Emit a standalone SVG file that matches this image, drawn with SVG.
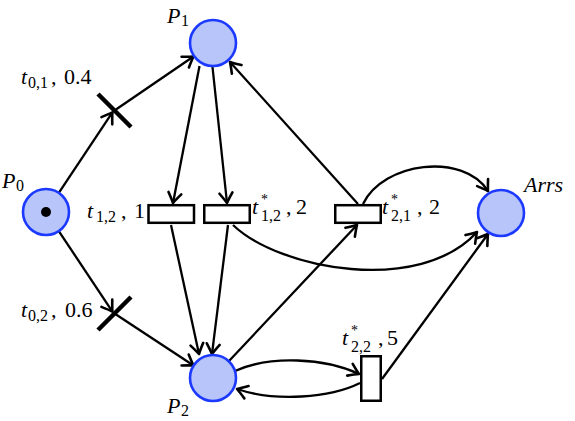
<svg xmlns="http://www.w3.org/2000/svg" width="575" height="421" viewBox="0 0 575 421">
<style>
.place{fill:#b8c5fa;stroke:#1c3aff;stroke-width:2.6}
.trans{fill:#fff;stroke:#000;stroke-width:2.5}
.bar{stroke:#000;stroke-width:4.5}
.arc{fill:none;stroke:#000;stroke-width:2.3;marker-end:url(#arr)}
text{font-family:'Liberation Serif','DejaVu Serif',serif;font-size:22px;fill:#000}
.it{font-style:italic}
.sub{font-size:16px}
.sup{font-size:14px}
</style>
<defs>
<marker id="arr" markerUnits="userSpaceOnUse" viewBox="-12 -9 14 18" markerWidth="14" markerHeight="18" refX="0" refY="0" orient="auto">
<path d="M-10,-6.5 Q-3.5,-2 0,0 Q-3.5,2 -10,6.5" fill="none" stroke="#000" stroke-width="2.6" stroke-linecap="round" stroke-linejoin="round"/>
</marker>
</defs>
<g id="connectors">
<path class="arc" d="M58.8,192.9 L112.4,112.4"/>
<path class="arc" d="M114.5,110.5 L193.5,56.5"/>
<path class="arc" d="M58.8,231.1 L112.4,311.6"/>
<path class="arc" d="M114.5,313.5 L193.5,365.5"/>
<path class="arc" d="M199.5,66 L173,203"/>
<path class="arc" d="M212.5,67 L227,203"/>
<path class="arc" d="M358,204 L230,62"/>
<path class="arc" d="M363,204 C383,162 463,152 488,191"/>
<path class="arc" d="M171,225 L199,354"/>
<path class="arc" d="M228,225 L212,354"/>
<path class="arc" d="M233,225 C280,270 420,295 477,232"/>
<path class="arc" d="M229,361 L357,225"/>
<path class="arc" d="M235,371 C270,355 325,358 359,374"/>
<path class="arc" d="M360,383 C330,398 275,402 237,389"/>
<path class="arc" d="M382,379 L488,234"/>
</g>
<g id="P0">
<circle class="place" cx="46" cy="212" r="23"/>
<circle cx="46" cy="212" r="5" fill="#000"/>
<text><tspan class="it" x="2" y="188">P</tspan><tspan class="sub" x="16" y="191">0</tspan></text>
</g>
<g id="P1">
<circle class="place" cx="213" cy="43" r="23"/>
<text><tspan class="it" x="167" y="22.5">P</tspan><tspan class="sub" x="181" y="25.5">1</tspan></text>
</g>
<g id="P2">
<circle class="place" cx="213" cy="378" r="23"/>
<text><tspan class="it" x="167" y="413">P</tspan><tspan class="sub" x="181" y="416">2</tspan></text>
</g>
<g id="Arrs">
<circle class="place" cx="501" cy="213" r="23"/>
<text class="it" x="524" y="192">Arrs</text>
</g>
<g id="t01">
<line class="bar" x1="98" y1="94" x2="131" y2="127"/>
<text><tspan class="it" x="21" y="84">t</tspan><tspan class="sub" x="28" y="88">0,1</tspan><tspan x="51" y="84">,</tspan><tspan x="64" y="84">0.4</tspan></text>
</g>
<g id="t02">
<line class="bar" x1="98" y1="330" x2="131" y2="297"/>
<text><tspan class="it" x="21" y="317">t</tspan><tspan class="sub" x="28" y="321">0,2</tspan><tspan x="51" y="317">,</tspan><tspan x="65" y="317">0.6</tspan></text>
</g>
<g id="t12">
<rect class="trans" x="148.5" y="205.2" width="45.5" height="17.6"/>
<text><tspan class="it" x="87" y="218">t</tspan><tspan class="sub" x="96" y="222">1,2</tspan><tspan x="121" y="218">,</tspan><tspan x="134" y="218">1</tspan></text>
</g>
<g id="ts12">
<rect class="trans" x="204.25" y="205.2" width="45.5" height="17.6"/>
<text><tspan class="it" x="252" y="214">t</tspan><tspan class="sup" x="261" y="203.5">*</tspan><tspan class="sub" x="261" y="221">1,2</tspan><tspan x="286" y="214">,</tspan><tspan x="296" y="214">2</tspan></text>
</g>
<g id="ts21">
<rect class="trans" x="335.25" y="205.2" width="45.5" height="17.6"/>
<text><tspan class="it" x="382" y="214">t</tspan><tspan class="sup" x="391" y="203.5">*</tspan><tspan class="sub" x="391" y="221">2,1</tspan><tspan x="417" y="214">,</tspan><tspan x="429" y="214">2</tspan></text>
</g>
<g id="ts22">
<rect class="trans" x="361.25" y="356.25" width="19.5" height="44.5"/>
<text><tspan class="it" x="342" y="345">t</tspan><tspan class="sup" x="351" y="334.5">*</tspan><tspan class="sub" x="351" y="352">2,2</tspan><tspan x="378" y="345">,</tspan><tspan x="387" y="345">5</tspan></text>
</g>
</svg>
